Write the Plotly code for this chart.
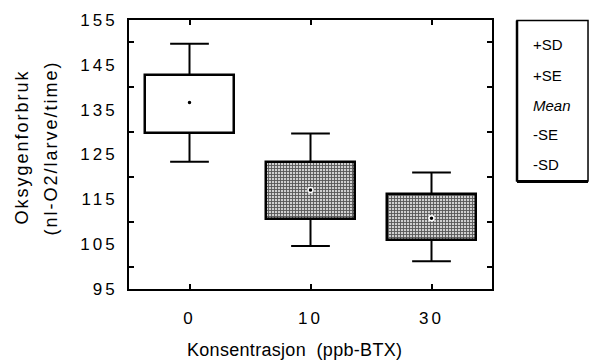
import plotly.graph_objects as go

categories = ["0", "10", "30"]
mean = [136.6, 117.1, 110.8]
se_high = [142.7, 123.4, 116.2]
se_low = [129.9, 110.6, 106.0]
sd_high = [149.7, 129.7, 121.0]
sd_low = [123.4, 104.6, 101.2]
legend_labels = ["+SD", "+SE", "<i>Mean</i>", "-SE", "-SD"]
y_ticklabels = [95, 105, 115, 125, 135, 145, 155]
y_ticks = [100, 110, 120, 130, 140, 150]
x_title = "Konsentrasjon  (ppb-BTX)"
y_title = ["Oksygenforbruk", "(nl-O2/larve/time)"]

FONT = "Liberation Sans, Arial, Helvetica, sans-serif"


def spaced(t, px):
    return "<span style='letter-spacing:%.1fpx'>%s</span>" % (px, t)


xs = list(range(len(categories)))
box_w = 0.74
cap_hw = 0.16

fig = go.Figure()

# boxes (SE range)
for i in xs:
    if i == 0:
        marker = dict(color="white", line=dict(color="black", width=2.5))
    else:
        marker = dict(color="#c4c4c4", line=dict(color="black", width=2.5),
                      pattern=dict(shape="+", size=3, solidity=0.5, fgcolor="#555555",
                                   bgcolor="#cfcfcf", fillmode="replace"))
    fig.add_trace(go.Bar(x=[i], y=[se_high[i] - se_low[i]], base=[se_low[i]], width=box_w,
                         marker=marker, showlegend=False, hoverinfo="skip"))

# whiskers (SD range) with caps
wx, wy = [], []
for i in xs:
    wx += [i, i, None, i - cap_hw, i + cap_hw, None, i, i, None, i - cap_hw, i + cap_hw, None]
    wy += [se_high[i], sd_high[i], None, sd_high[i], sd_high[i], None,
           se_low[i], sd_low[i], None, sd_low[i], sd_low[i], None]
fig.add_trace(go.Scatter(x=wx, y=wy, mode="lines", line=dict(color="black", width=2),
                         showlegend=False, hoverinfo="skip"))

# mean dots
fig.add_trace(go.Scatter(x=xs, y=mean, mode="markers",
                         marker=dict(color="black", size=5, line=dict(color="white", width=1.5)),
                         showlegend=False, hoverinfo="skip"))

# helper trace for the inside ticks at 100..150
fig.add_trace(go.Scatter(x=[None], y=[None], yaxis="y2", showlegend=False))

fig.update_layout(
    width=589, height=362,
    margin=dict(l=129, r=97, t=20, b=73),
    paper_bgcolor="white", plot_bgcolor="white",
    font=dict(family=FONT, size=17, color="black"),
    bargap=0,
    xaxis=dict(range=[-0.5, 2.5], tickvals=xs, ticktext=[spaced(c, 3) for c in categories],
               showline=True, linecolor="black", linewidth=2, mirror="ticks",
               ticks="inside", ticklen=5, tickwidth=1.5, tickcolor="black",
               showgrid=False, zeroline=False, ticklabelstandoff=13,
               tickfont=dict(size=17)),
    yaxis=dict(range=[95, 155], tickvals=y_ticklabels,
               ticktext=[spaced(str(v), 3) for v in y_ticklabels],
               showline=True, linecolor="black", linewidth=2, mirror=True,
               ticks="", showgrid=False, zeroline=False, ticklabelstandoff=6,
               tickfont=dict(size=17)),
    yaxis2=dict(range=[95, 155], overlaying="y", side="left", tickvals=y_ticks,
                showticklabels=False, ticks="inside", ticklen=5, tickwidth=1.5,
                tickcolor="black", showgrid=False, zeroline=False, mirror="ticks",
                showline=True, linecolor="black", linewidth=2),
)

# axis titles
fig.add_annotation(x=0.457, xref="paper", y=-0.226, yref="paper", text=spaced(x_title, 0.3),
                   showarrow=False, xanchor="center", yanchor="middle", font=dict(size=18))
for txt, xp in zip(y_title, [-0.2975, -0.2149]):
    fig.add_annotation(x=xp, xref="paper", y=0.526, yref="paper", text=spaced(txt, 2),
                       textangle=-90, showarrow=False, xanchor="center", yanchor="middle",
                       font=dict(size=18))

# legend box
fig.add_shape(type="rect", xref="paper", yref="paper", x0=1.0689, x1=1.2645, y0=0.4015, y1=0.998,
              line=dict(color="black", width=1.5), fillcolor="white", layer="above")
fig.add_shape(type="line", xref="paper", yref="paper", x0=1.0689, x1=1.2645, y0=0.3996, y1=0.3996,
              line=dict(color="black", width=3), layer="above")
fig.add_shape(type="line", xref="paper", yref="paper", x0=1.0689, x1=1.0689, y0=0.3996, y1=0.998,
              line=dict(color="black", width=2.5), layer="above")
legend_y = [0.9071, 0.7937, 0.684, 0.5725, 0.461]
for lab, yv in zip(legend_labels, legend_y):
    fig.add_annotation(x=1.1074, xref="paper", y=yv, yref="paper", text=lab, showarrow=False,
                       xanchor="left", yanchor="middle", font=dict(size=15))

fig.write_html("out.html")
